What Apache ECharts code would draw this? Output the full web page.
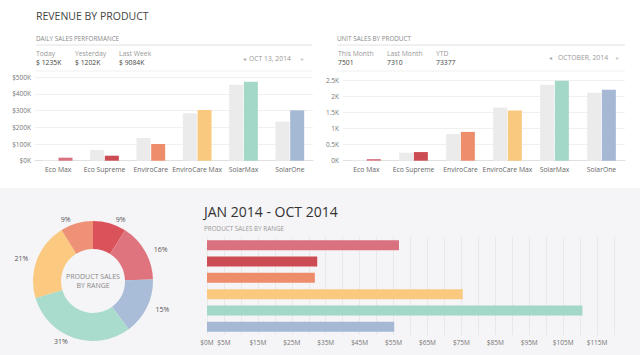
<!DOCTYPE html>
<html>
<head>
<meta charset="utf-8">
<script src="https://cdn.jsdelivr.net/npm/echarts@6/dist/echarts.min.js"></script>
<style>
html,body{margin:0;padding:0;background:#fff;}
#chart{width:640px;height:355px;}
</style>
</head>
<body>
<div id="chart"></div>
<script>
// ---- data ----
const products = ['Eco Max', 'Eco Supreme', 'EnviroCare', 'EnviroCare Max', 'SolarMax', 'SolarOne'];
const revenuePrev = [4, 64, 136, 284, 456, 234];      // $K (grey bars)
const revenueCurr = [18, 30, 100, 304, 474, 302];     // $K (coloured bars)
const revenueTicks = [0, 100, 200, 300, 400, 500];
const unitsPrev = [20, 250, 830, 1660, 2375, 2125];   // units (grey bars)
const unitsCurr = [50, 270, 900, 1570, 2510, 2220];   // units (coloured bars)
const unitTicks = ['0K', '0.5K', '1K', '1.5K', '2K', '2.5K'];
const rangeSales = [56.6, 32.5, 31.8, 75.4, 110.7, 55.2]; // $M, Jan-Oct 2014
const pieOrder = ['Eco Supreme', 'Eco Max', 'SolarOne', 'SolarMax', 'EnviroCare Max', 'EnviroCare'];
const dailyLabels = ['Today', 'Yesterday', 'Last Week'];
const dailyValues = ['$ 1235K', '$ 1202K', '$ 9084K'];
const unitLabels = ['This Month', 'Last Month', 'YTD'];
const unitValues = ['7501', '7310', '73377'];

// ---- styles ----
const FONT = '"Open Sans", "Noto Sans", sans-serif';
const colors = ['#D9717F', '#CD4B53', '#EE8D6C', '#F9C97F', '#A3D8C8', '#A5B9D5'];
const pieColors = ['#DA535B', '#E0747E', '#A9BDD9', '#AADCCD', '#FBC980', '#EF9176'];
const greyBar = '#EBEBEB';

const chart = echarts.init(document.getElementById('chart'), null, {renderer: 'svg'});

const total = rangeSales.reduce((a, b) => a + b, 0);
const pieData = pieOrder.map((name) => {
  const i = products.indexOf(name);
  return {name: name, value: rangeSales[i]};
});

function txt(x, y, text, size, color, extra) {
  return Object.assign({
    type: 'text', x: x, y: y,
    style: {text: text, fontSize: size, fill: color, fontFamily: FONT, verticalAlign: 'middle'}
  }, extra || {});
}

const graphics = [
  {type: 'rect', shape: {x: 0, y: 188, width: 640, height: 167}, style: {fill: '#F5F4F6'}, z: -10, silent: true},
  txt(36, 16, 'REVENUE BY PRODUCT', 10.5, '#444'),
  txt(36, 38, 'DAILY SALES PERFORMANCE', 6.3, '#8a8a8a'),
  {type: 'line', shape: {x1: 36, y1: 45, x2: 312, y2: 45}, style: {stroke: '#e2e2e2', lineWidth: 1}},
  {type: 'line', shape: {x1: 36, y1: 71, x2: 312, y2: 71}, style: {stroke: '#f0f0f0', lineWidth: 1}},
  txt(337, 38, 'UNIT SALES BY PRODUCT', 6.3, '#8a8a8a'),
  {type: 'line', shape: {x1: 337, y1: 45, x2: 625, y2: 45}, style: {stroke: '#e2e2e2', lineWidth: 1}},
  {type: 'line', shape: {x1: 337, y1: 71, x2: 625, y2: 71}, style: {stroke: '#f0f0f0', lineWidth: 1}},
  txt(243, 58.5, '\u25C2', 6, '#aaa'),
  txt(249, 58.5, 'OCT 13, 2014', 6.8, '#999'),
  txt(301, 58.5, '\u25B8', 6, '#ccc'),
  txt(549, 57.5, '\u25C2', 6, '#aaa'),
  txt(558, 57.5, 'OCTOBER, 2014', 6.8, '#999'),
  txt(616, 57.5, '\u25B8', 6, '#ccc'),
  txt(204, 211, 'JAN 2014 - OCT 2014', 14, '#333'),
  txt(204, 228.5, 'PRODUCT SALES BY RANGE', 6.3, '#999'),
  txt(93, 276, 'PRODUCT SALES', 7, '#888', {style: {text: 'PRODUCT SALES', fontSize: 7, fill: '#888', fontFamily: FONT, align: 'center', verticalAlign: 'middle'}}),
  txt(93, 285.5, 'BY RANGE', 7, '#888', {style: {text: 'BY RANGE', fontSize: 7, fill: '#888', fontFamily: FONT, align: 'center', verticalAlign: 'middle'}})
];
const dailyX = [36, 75, 119];
dailyLabels.forEach((l, i) => {
  graphics.push(txt(dailyX[i], 53, l, 6.8, '#999'));
  graphics.push(txt(dailyX[i], 62.5, dailyValues[i], 6.8, '#444'));
});
const unitX = [338, 387, 436];
unitLabels.forEach((l, i) => {
  graphics.push(txt(unitX[i], 53, l, 6.8, '#999'));
  graphics.push(txt(unitX[i], 62.5, unitValues[i], 6.8, '#444'));
});

const catAxisBase = {
  type: 'category', data: products,
  axisLine: {lineStyle: {color: '#e0e0e0'}}, axisTick: {show: false},
  axisLabel: {fontSize: 6.8, color: '#666', fontFamily: FONT, margin: 5, interval: 0}
};
const valAxisBase = {
  type: 'value', min: 0,
  axisLine: {show: false}, axisTick: {show: false},
  splitLine: {lineStyle: {color: '#f0f0f0'}},
  axisLabel: {fontSize: 6.5, color: '#777', fontFamily: FONT, margin: 4}
};

const option = {
  animation: false,
  backgroundColor: '#fff',
  textStyle: {fontFamily: FONT},
  graphic: graphics,
  grid: [
    {left: 35, right: 327, top: 77.3, bottom: 194.3},
    {left: 343, right: 15, top: 80.7, bottom: 194.3},
    {left: 207, right: 26, top: 237, bottom: 20}
  ],
  xAxis: [
    Object.assign({}, catAxisBase, {gridIndex: 0}),
    Object.assign({}, catAxisBase, {gridIndex: 1}),
    {
      type: 'value', gridIndex: 2, min: 0, max: 120, interval: 5,
      axisLine: {show: false}, axisTick: {show: false},
      splitLine: {lineStyle: {color: '#e8e8e8'}},
      axisLabel: {
        fontSize: 6.5, color: '#777', fontFamily: FONT, margin: 4,
        formatter: (v) => (v === 0 || (v / 5) % 2 === 1) ? '$' + v + 'M' : ''
      }
    }
  ],
  yAxis: [
    Object.assign({}, valAxisBase, {gridIndex: 0, max: 500, interval: 100,
      axisLabel: Object.assign({}, valAxisBase.axisLabel, {formatter: (v) => '$' + v + 'K'})}),
    Object.assign({}, valAxisBase, {gridIndex: 1, max: 2500, interval: 500,
      axisLabel: Object.assign({}, valAxisBase.axisLabel, {formatter: (v) => unitTicks[v / 500]})}),
    {type: 'category', gridIndex: 2, data: products, inverse: true,
      axisLine: {show: false}, axisTick: {show: false}, axisLabel: {show: false}, splitLine: {show: false}}
  ],
  series: [
    {type: 'bar', xAxisIndex: 0, yAxisIndex: 0, data: revenuePrev, barWidth: 14, barGap: '5%',
      itemStyle: {color: greyBar}},
    {type: 'bar', xAxisIndex: 0, yAxisIndex: 0, barWidth: 14, barGap: '5%',
      data: revenueCurr.map((v, i) => ({value: v, itemStyle: {color: colors[i]}}))},
    {type: 'bar', xAxisIndex: 1, yAxisIndex: 1, data: unitsPrev, barWidth: 14, barGap: '5%',
      itemStyle: {color: greyBar}},
    {type: 'bar', xAxisIndex: 1, yAxisIndex: 1, barWidth: 14, barGap: '5%',
      data: unitsCurr.map((v, i) => ({value: v, itemStyle: {color: colors[i]}}))},
    {type: 'bar', xAxisIndex: 2, yAxisIndex: 2, barWidth: 10,
      data: rangeSales.map((v, i) => ({value: v, itemStyle: {color: colors[i]}}))},
    {
      type: 'pie', center: [93, 281], radius: [32, 60], startAngle: 90, clockwise: true,
      data: pieData.map((d, i) => Object.assign({}, d, {itemStyle: {color: pieColors[i]}})),
      label: {
        show: true, position: 'outside', fontSize: 7, color: '#555', fontFamily: FONT,
        formatter: (p) => Math.round(p.value / total * 100) + '%'
      },
      labelLine: {show: false, length: 4, length2: 0},
      emphasis: {disabled: true}
    }
  ]
};
chart.setOption(option);
</script>
</body>
</html>
